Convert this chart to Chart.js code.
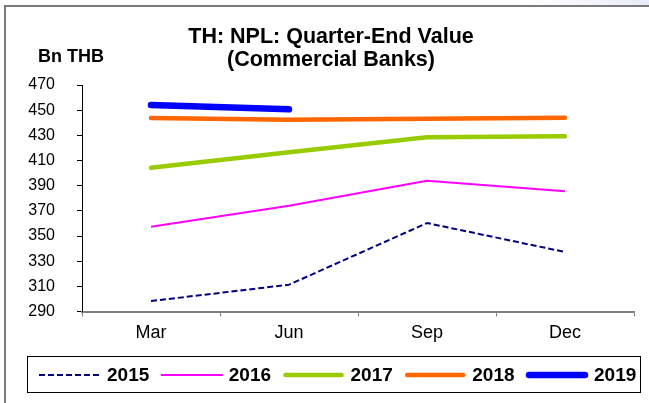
<!DOCTYPE html>
<html>
<head>
<meta charset="utf-8">
<title>TH: NPL: Quarter-End Value</title>
<script src="https://cdn.jsdelivr.net/npm/chart.js@4"></script>
<style>
  html, body { margin: 0; padding: 0; background: #fff; }
  #wrap { width: 649px; height: 403px; }
</style>
</head>
<body>
<div id="wrap"><canvas id="nplChart" width="649" height="403"></canvas></div>
<script>
// Quarter-end NPL of commercial banks, Bn THB
const quarters = ['Mar', 'Jun', 'Sep', 'Dec'];
const years = ['2015', '2016', '2017', '2018', '2019'];
const npl2015 = [298.3, 311.3, 360.3, 337.3];
const npl2016 = [357.4, 374.1, 393.9, 385.5];
const npl2017 = [404.3, 416.5, 428.4, 429.2];
const npl2018 = [443.8, 442.4, 443.2, 444.0];
const npl2019 = [454.1, 450.7, null, null];
const yMin = 290;
const yMax = 470;
const yStep = 20;

const FONT = "'Liberation Sans', Arial, sans-serif";

const lineStyles = [
  { color: '#000080', width: 2, dash: [6, 3] },
  { color: '#FF00FF', width: 2, dash: [] },
  { color: '#99CC00', width: 4.5, dash: [] },
  { color: '#FF6600', width: 4.5, dash: [] },
  { color: '#0000FF', width: 6.5, dash: [] }
];

const seriesValues = [npl2015, npl2016, npl2017, npl2018, npl2019];

const datasets = years.map((year, i) => ({
  label: year,
  data: seriesValues[i],
  borderColor: lineStyles[i].color,
  backgroundColor: lineStyles[i].color,
  borderWidth: lineStyles[i].width,
  borderDash: lineStyles[i].dash,
  borderCapStyle: i >= 2 ? 'round' : 'butt',
  borderJoinStyle: 'round',
  pointRadius: 0,
  tension: 0,
  fill: false
}));

// frame, headings and the boxed legend
const decorations = {
  id: 'decorations',
  beforeDraw(chart) {
    const ctx = chart.ctx;
    ctx.save();
    ctx.fillStyle = '#fff';
    ctx.fillRect(0, 0, chart.width, chart.height);

    const grad = ctx.createLinearGradient(520, 0, 649, 0);
    grad.addColorStop(0, 'rgba(232,236,246,0)');
    grad.addColorStop(1, 'rgba(232,236,246,1)');
    ctx.fillStyle = grad;
    ctx.fillRect(520, 0, 129, 6);

    ctx.strokeStyle = '#7a7a7a';
    ctx.lineWidth = 2;
    ctx.beginPath();
    ctx.moveTo(5, chart.height);
    ctx.lineTo(5, 6);
    ctx.lineTo(chart.width, 6);
    ctx.stroke();
    ctx.restore();
  },
  afterDraw(chart) {
    const ctx = chart.ctx;
    ctx.save();
    ctx.fillStyle = '#000';
    ctx.textBaseline = 'middle';
    ctx.textAlign = 'center';
    ctx.font = 'bold 21.5px ' + FONT;
    ctx.fillText('TH: NPL: Quarter-End Value', 331, 37);
    ctx.fillText('(Commercial Banks)', 331, 60);

    ctx.textAlign = 'left';
    ctx.font = 'bold 18px ' + FONT;
    ctx.fillText('Bn THB', 38, 57);

    // legend box
    ctx.strokeStyle = '#000';
    ctx.lineWidth = 1;
    ctx.strokeRect(27.5, 356.5, 613, 36);

    ctx.font = 'bold 19px ' + FONT;
    chart.data.datasets.forEach((ds, i) => {
      const x0 = 39 + i * 121.75;
      const y = 375;
      ctx.beginPath();
      ctx.strokeStyle = ds.borderColor;
      ctx.lineWidth = ds.borderWidth;
      ctx.setLineDash(ds.borderDash);
      ctx.lineCap = ds.borderCapStyle;
      ctx.moveTo(x0 + (i >= 2 ? 3 : 0), y);
      ctx.lineTo(x0 + 62 - (i >= 2 ? 3 : 0), y);
      ctx.stroke();
      ctx.setLineDash([]);
      ctx.fillStyle = '#000';
      ctx.fillText(ds.label, x0 + 68, y + 1);
    });
    ctx.restore();
  }
};

const nplChart = new Chart(document.getElementById('nplChart'), {
  type: 'line',
  data: { labels: quarters, datasets: datasets },
  plugins: [decorations],
  options: {
    responsive: false,
    animation: false,
    layout: { padding: { top: 85, right: 15, left: 0, bottom: 0 } },
    plugins: {
      legend: { display: false },
      title: { display: false },
      tooltip: { enabled: false }
    },
    scales: {
      x: {
        offset: true,
        grid: {
          offset: true,
          drawOnChartArea: false,
          tickLength: 5,
          color: '#808080'
        },
        border: { color: '#808080', width: 2 },
        ticks: { color: '#000', font: { family: FONT, size: 18 }, padding: 6 },
        afterFit(scale) { scale.height = 91.5; }
      },
      y: {
        min: yMin,
        max: yMax,
        grid: {
          drawOnChartArea: false,
          tickLength: 5,
          color: '#000'
        },
        border: { color: '#000', width: 1 },
        ticks: {
          stepSize: yStep,
          color: '#000',
          font: { family: FONT, size: 16 },
          padding: 22
        },
        afterFit(scale) { scale.width = 82; }
      }
    }
  }
});
</script>
</body>
</html>
